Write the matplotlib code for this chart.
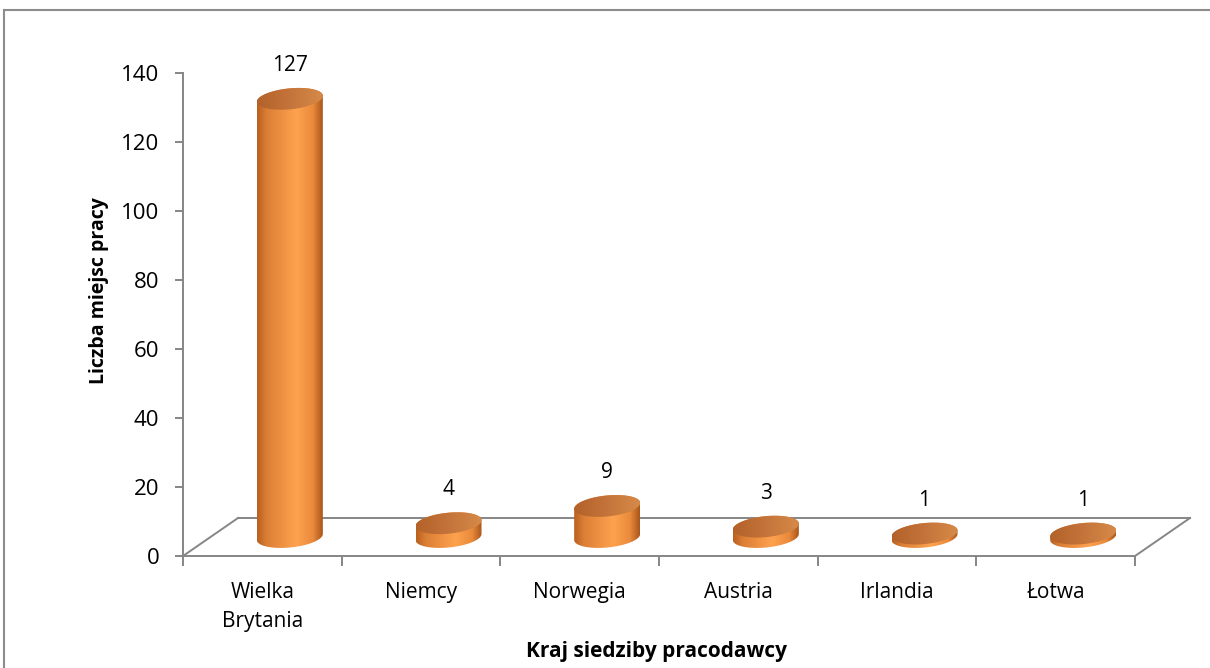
import numpy as np
import matplotlib
matplotlib.use("Agg")
import matplotlib.pyplot as plt
from matplotlib.patches import Polygon
from matplotlib.colors import LinearSegmentedColormap
from matplotlib.lines import Line2D

plt.rcParams['font.family'] = ['Open Sans', 'DejaVu Sans']

# data
countries = ['Wielka\nBrytania', 'Niemcy', 'Norwegia', 'Austria', 'Irlandia', 'Łotwa']
jobs = [127, 4, 9, 3, 1, 1]
y_ticks = [0, 20, 40, 60, 80, 100, 120, 140]

W, H = 1210, 668
fig = plt.figure(figsize=(W / 100, H / 100), dpi=100)

# plot area in pixels (front plane)
left_px, right_px = 183, 1195
zero_px, top_px = 556, 73
px_x = 158.67                      # pixels per category
px_y = (zero_px - top_px) / 140.0  # pixels per value unit

ax = fig.add_axes([left_px / W, (H - zero_px) / H,
                   (right_px - left_px) / W, (zero_px - top_px) / H])
ax.set_xlim(0, (right_px - left_px) / px_x)
ax.set_ylim(0, 140)

grey = '#868686'
for s in ['top', 'right', 'bottom']:
    ax.spines[s].set_visible(False)
ax.spines['left'].set_color(grey)
ax.spines['left'].set_linewidth(1.4)
ax.set_yticks(y_ticks)
ax.tick_params(axis='y', length=6, width=1.4, color=grey, labelsize=16, pad=11)

n = len(countries)
ax.set_xticks(np.arange(n + 1))
ax.set_xticklabels([''] * (n + 1))
ax.set_xticks(np.arange(n) + 0.5, minor=True)
ax.set_xticklabels(countries, minor=True, fontsize=15, linespacing=1.45)
ax.tick_params(axis='x', which='major', length=7, width=1.4, color=grey)
ax.tick_params(axis='x', which='minor', length=0, pad=19)

# floor (depth offset)
dx = 55 / px_x
dy = 38 / px_y
floor = [([0, n], [0, 0]), ([dx, n + dx], [dy, dy]),
         ([0, dx], [0, dy]), ([n, n + dx], [0, dy])]
for xs, ys in floor:
    ax.plot(xs, ys, color=grey, lw=1.4, clip_on=False, zorder=2)

# cylinders
body_cmap = LinearSegmentedColormap.from_list('body', [
    (0.0, '#b8601f'), (0.15, '#dc7f36'), (0.6, '#ffa24e'),
    (0.85, '#ea8a3c'), (1.0, '#a9561b')])
top_cmap = LinearSegmentedColormap.from_list('top', [
    (0.0, '#b3622a'), (0.5, '#c4743a'), (1.0, '#d68a48')])

a = 33 / px_x         # half width
b = 10.5 / px_y       # half height of ellipse
tilt = 3.0 / px_y     # rise of the right end
t = np.linspace(0, 2 * np.pi, 200)
grad = np.linspace(0, 1, 256).reshape(1, -1)

for i, v in enumerate(jobs):
    cx = i + 0.5 + dx / 2
    y0 = dy / 2
    y1 = y0 + v
    # body: bottom half ellipse, then top half ellipse back
    tb = np.linspace(np.pi, 2 * np.pi, 100)
    bx = cx + a * np.cos(tb)
    by = y0 + b * np.sin(tb) + tilt * np.cos(tb)
    tt = np.linspace(0, np.pi, 100)
    tx = cx + a * np.cos(tt)
    ty = y1 + b * np.sin(tt) + tilt * np.cos(tt)
    pts = np.column_stack([np.r_[bx, tx], np.r_[by, ty]])
    body = Polygon(pts, closed=True, facecolor='none', edgecolor='none')
    ax.add_patch(body)
    im = ax.imshow(grad, cmap=body_cmap, aspect='auto', zorder=3,
                   extent=[cx - a, cx + a, y0 - b - tilt, y1 + b + tilt])
    im.set_clip_path(body)

    ex = cx + a * np.cos(t)
    ey = y1 + b * np.sin(t) + tilt * np.cos(t)
    top = Polygon(np.column_stack([ex, ey]), closed=True,
                  facecolor='none', edgecolor='none')
    ax.add_patch(top)
    im2 = ax.imshow(grad, cmap=top_cmap, aspect='auto', zorder=4,
                    extent=[cx - a, cx + a, y1 - b - tilt, y1 + b + tilt])
    im2.set_clip_path(top)

    ax.annotate(str(v), (cx, y1), xytext=(0, 24), textcoords='offset points',
                ha='center', va='center', fontsize=15, zorder=5)

ax.set_xlim(0, (right_px - left_px) / px_x)
ax.set_ylim(0, 140)

fig.text(99 / W, (H - 291) / H, 'Liczba miejsc pracy', rotation=90,
         ha='center', va='center', fontsize=14, fontweight='bold')
fig.text(657 / W, (H - 651) / H, 'Kraj siedziby pracodawcy',
         ha='center', va='center', fontsize=15, fontweight='bold')

# outer frame (top and left edges visible)
fig.add_artist(Line2D([3.5 / W, 1.0], [(H - 9.5) / H] * 2, color='#8c8c8c', lw=1.5))
fig.add_artist(Line2D([3.5 / W] * 2, [0, (H - 9.5) / H], color='#8c8c8c', lw=1.5))

fig.savefig('out.png', dpi=100)
